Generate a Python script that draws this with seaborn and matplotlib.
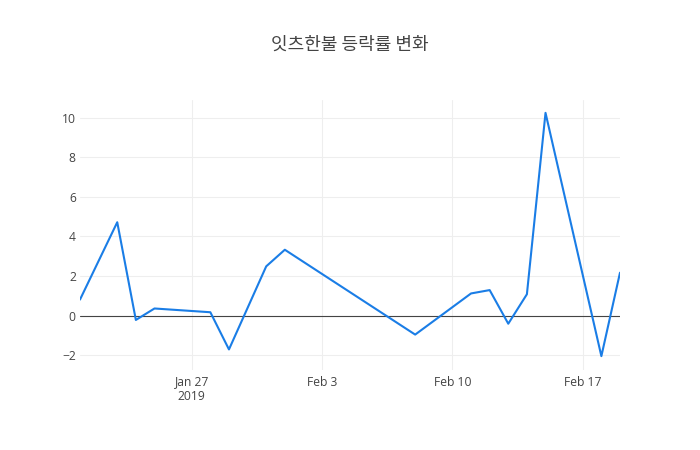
import matplotlib
matplotlib.use('Agg')
from matplotlib import pyplot as plt
import seaborn as sns
import pandas as pd

# 잇츠한불 daily change rate (%)
dates = ['2019-01-21', '2019-01-23', '2019-01-24', '2019-01-25', '2019-01-28',
         '2019-01-29', '2019-01-31', '2019-02-01', '2019-02-08', '2019-02-11',
         '2019-02-12', '2019-02-13', '2019-02-14', '2019-02-15', '2019-02-18',
         '2019-02-19']
rates = [0.81, 4.72, -0.22, 0.36, 0.17, -1.71, 2.49, 3.33, -0.96, 1.12,
         1.29, -0.41, 1.08, 10.25, -2.05, 2.17]
y_ticks = [-2, 0, 2, 4, 6, 8, 10]
x_ticks = ['2019-01-27', '2019-02-03', '2019-02-10', '2019-02-17']
x_labels = ['Jan 27\n2019', 'Feb 3', 'Feb 10', 'Feb 17']
title = '잇츠한불 등락률 변화'

df = pd.DataFrame({'date': pd.to_datetime(dates), 'rate': rates})

sns.set_style('white')
plt.rcParams['font.family'] = ['Open Sans', 'Noto Sans CJK KR', 'DejaVu Sans']

fig = plt.figure(figsize=(7, 4.5), dpi=100)
ax = fig.add_axes([80 / 700, 80 / 450, 540 / 700, 270 / 450])

ax.set_axisbelow(True)
ax.grid(True, color='#eeeeee', linewidth=0.75)
ax.axhline(0, color='#444444', linewidth=0.8, zorder=2)
sns.lineplot(data=df, x='date', y='rate', ax=ax, color='#1a7de6',
             linewidth=1.5, zorder=3)

ax.set_xlim(df['date'].min(), df['date'].max())
ax.set_ylim(-2.75, 10.9)
ax.set_yticks(y_ticks)
ax.set_yticklabels([str(v).replace('-', '\u2212') for v in y_ticks])
ax.set_xticks(pd.to_datetime(x_ticks))
ax.set_xticklabels(x_labels, linespacing=1.15)
ax.tick_params(length=0, labelsize=8.7, colors='#444444')
ax.tick_params(axis='y', pad=3)
ax.tick_params(axis='x', pad=4)
ax.set_xlabel('')
ax.set_ylabel('')
sns.despine(ax=ax, left=True, bottom=True)

fig.text(0.5, 1 - 45 / 450, title, ha='center', va='center', fontsize=13,
         color='#444444', family=['Noto Sans CJK KR', 'DejaVu Sans'])

fig.savefig('out.png', dpi=100)
